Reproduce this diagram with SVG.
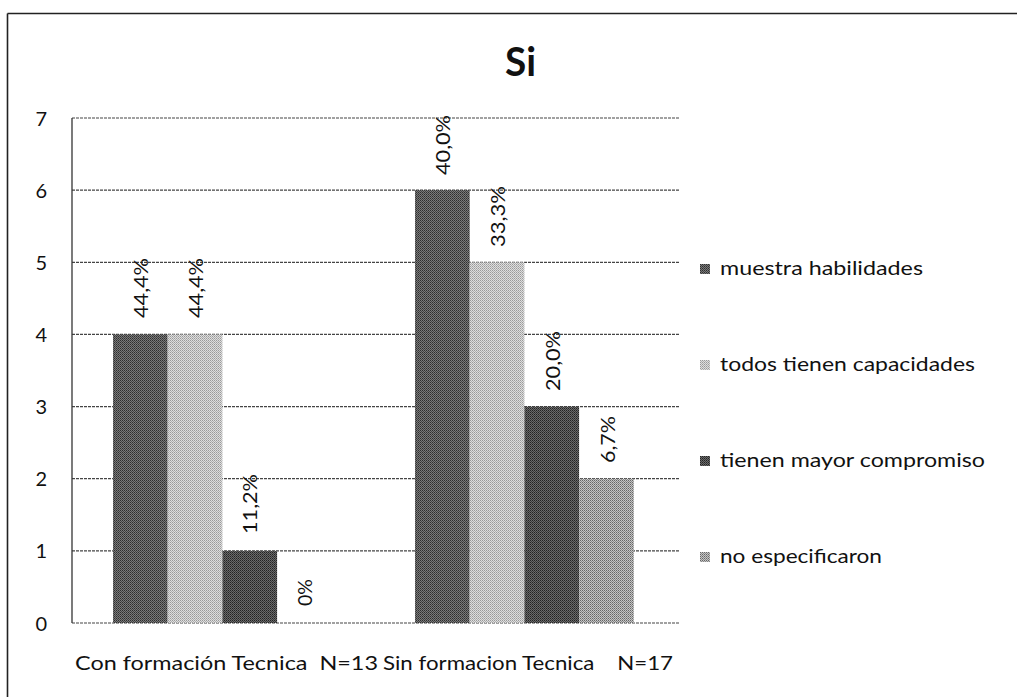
<svg xmlns="http://www.w3.org/2000/svg" width="1017" height="697" viewBox="0 0 1017 697">
<defs>
<pattern id="p1" width="2" height="2" patternUnits="userSpaceOnUse"><rect width="2" height="2" fill="#7a7a7a"/><rect width="1" height="1" fill="#2e2e2e"/><rect x="1" y="1" width="1" height="1" fill="#444"/></pattern>
<pattern id="p2" width="2" height="2" patternUnits="userSpaceOnUse"><rect width="2" height="2" fill="#dedede"/><rect width="1" height="1" fill="#9a9a9a"/><rect x="1" y="1" width="1" height="1" fill="#b0b0b0"/></pattern>
<pattern id="p3" width="2" height="2" patternUnits="userSpaceOnUse"><rect width="2" height="2" fill="#6a6a6a"/><rect width="1" height="1" fill="#222"/><rect x="1" y="1" width="1" height="1" fill="#3a3a3a"/></pattern>
<pattern id="p4" width="2" height="2" patternUnits="userSpaceOnUse"><rect width="2" height="2" fill="#c4c4c4"/><rect width="1" height="1" fill="#666"/><rect x="1" y="1" width="1" height="1" fill="#888"/></pattern>
</defs>
<style>
text{font-family:Lato,"Open Sans","Liberation Sans",sans-serif;fill:#111}
.grid{stroke:#444;stroke-width:1.2;stroke-dasharray:3 1}
.axis{stroke:#333;stroke-width:1.3}
.frame{stroke:#222;stroke-width:1.6;fill:none}
.tick{font-size:20px;text-anchor:end}
.val{font-size:19px}
.leg{font-size:20px}
.cat{font-size:20px;white-space:pre}
</style>
<rect width="1017" height="697" fill="#fff"/>
<g id="frame">
<path class="frame" d="M7.5 13.5 H1017 M7.5 13.5 V697"/>
</g>
<g id="title"><text x="505" y="76" font-size="40" font-weight="bold" textLength="31" lengthAdjust="spacingAndGlyphs">Si</text></g>
<g id="grid">
<line class="grid" x1="72" y1="118" x2="679" y2="118"/>
<line class="grid" x1="72" y1="190.1" x2="679" y2="190.1"/>
<line class="grid" x1="72" y1="262.3" x2="679" y2="262.3"/>
<line class="grid" x1="72" y1="334.4" x2="679" y2="334.4"/>
<line class="grid" x1="72" y1="406.6" x2="679" y2="406.6"/>
<line class="grid" x1="72" y1="478.7" x2="679" y2="478.7"/>
<line class="grid" x1="72" y1="550.9" x2="679" y2="550.9"/>
<line class="grid" x1="72" y1="623" x2="679" y2="623"/>
<line class="axis" x1="72" y1="118" x2="72" y2="623"/>
</g>
<g id="ticks">
<text class="tick" x="47" y="125.5">7</text>
<text class="tick" x="47" y="197.6">6</text>
<text class="tick" x="47" y="269.8">5</text>
<text class="tick" x="47" y="341.9">4</text>
<text class="tick" x="47" y="414.1">3</text>
<text class="tick" x="47" y="486.2">2</text>
<text class="tick" x="47" y="558.4">1</text>
<text class="tick" x="47" y="630.5">0</text>
</g>
<g id="series-muestra">
<rect x="113" y="334.4" width="54.7" height="288.6" fill="url(#p1)"/>
<rect x="415" y="190.1" width="54.7" height="432.9" fill="url(#p1)"/>
</g>
<g id="series-todos">
<rect x="167.7" y="334.4" width="54.7" height="288.6" fill="url(#p2)"/>
<rect x="469.7" y="262.3" width="54.7" height="360.7" fill="url(#p2)"/>
</g>
<g id="series-compromiso">
<rect x="222.4" y="550.9" width="54.7" height="72.1" fill="url(#p3)"/>
<rect x="524.4" y="406.6" width="54.7" height="216.4" fill="url(#p3)"/>
</g>
<g id="series-noesp">
<rect x="579.1" y="478.7" width="54.7" height="144.3" fill="url(#p4)"/>
</g>
<g id="value-labels">
<text class="val" transform="translate(147.5,318) rotate(-90)" textLength="60" lengthAdjust="spacingAndGlyphs">44,4%</text>
<text class="val" transform="translate(202.5,318) rotate(-90)" textLength="60" lengthAdjust="spacingAndGlyphs">44,4%</text>
<text class="val" transform="translate(257,534) rotate(-90)" textLength="60" lengthAdjust="spacingAndGlyphs">11,2%</text>
<text class="val" transform="translate(312,606) rotate(-90)" textLength="27" lengthAdjust="spacingAndGlyphs">0%</text>
<text class="val" transform="translate(449.5,175) rotate(-90)" textLength="60" lengthAdjust="spacingAndGlyphs">40,0%</text>
<text class="val" transform="translate(504.5,247) rotate(-90)" textLength="61" lengthAdjust="spacingAndGlyphs">33,3%</text>
<text class="val" transform="translate(559.5,391) rotate(-90)" textLength="60" lengthAdjust="spacingAndGlyphs">20,0%</text>
<text class="val" transform="translate(614.5,463) rotate(-90)" textLength="47" lengthAdjust="spacingAndGlyphs">6,7%</text>
</g>
<g id="categories">
<text class="cat" x="75" y="670" textLength="303" lengthAdjust="spacingAndGlyphs">Con formación Tecnica  N=13</text>
<text class="cat" x="383" y="670" textLength="290" lengthAdjust="spacingAndGlyphs">Sin formacion Tecnica    N=17</text>
</g>
<g id="legend">
<g id="leg-muestra"><rect x="700" y="264" width="10" height="10" fill="url(#p1)"/><text class="leg" x="720" y="275" textLength="203" lengthAdjust="spacingAndGlyphs">muestra habilidades</text></g>
<g id="leg-todos"><rect x="700" y="360" width="10" height="10" fill="url(#p2)"/><text class="leg" x="720" y="371" textLength="255" lengthAdjust="spacingAndGlyphs">todos tienen capacidades</text></g>
<g id="leg-compromiso"><rect x="700" y="456" width="10" height="10" fill="url(#p3)"/><text class="leg" x="720" y="467" textLength="265" lengthAdjust="spacingAndGlyphs">tienen mayor compromiso</text></g>
<g id="leg-noesp"><rect x="700" y="552" width="10" height="10" fill="url(#p4)"/><text class="leg" x="720" y="563" textLength="162" lengthAdjust="spacingAndGlyphs">no especificaron</text></g>
</g>
</svg>
